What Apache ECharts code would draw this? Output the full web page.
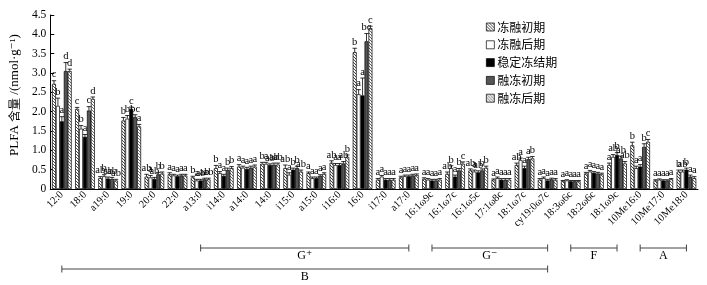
<!DOCTYPE html>
<html><head><meta charset="utf-8">
<script src="https://cdn.jsdelivr.net/npm/echarts@6/dist/echarts.min.js"></script>
<style>html,body{margin:0;padding:0;background:#fff}#c{width:707px;height:285px}</style>
</head><body><div id="c"></div>
<script>
const categories = ['12:0','18:0','a19:0','19:0','20:0','22:0','a13:0','i14:0','a14:0','14:0','i15:0','a15:0','i16:0','16:0','i17:0','a17:0','16:1ω9c','16:1ω7c','16:1ω5c','17:1ω8c','18:1ω7c','cy19:0ω7c','18:3ω6c','18:2ω6c','18:1ω9c','10Me16:0','10Me17:0','10Me18:0'];
const seriesNames = ['冻融初期','冻融后期','稳定冻结期','融冻初期','融冻后期'];
const yTicks = [0,0.5,1.0,1.5,2.0,2.5,3.0,3.5,4.0,4.5];

const s1 = [2.72,2.07,0.28,1.77,0.32,0.38,0.30,0.54,0.58,0.65,0.54,0.41,0.68,3.54,0.24,0.30,0.26,0.39,0.48,0.24,0.62,0.24,0.20,0.40,0.62,1.13,0.22,0.45];
const s2 = [2.15,1.56,0.33,1.82,0.30,0.35,0.22,0.41,0.55,0.65,0.37,0.28,0.62,2.45,0.32,0.33,0.24,0.54,0.45,0.28,0.75,0.28,0.22,0.45,0.83,0.54,0.24,0.45];
const s3 = [1.75,1.35,0.27,2.07,0.26,0.33,0.22,0.34,0.52,0.62,0.50,0.28,0.62,2.42,0.24,0.33,0.22,0.32,0.43,0.24,0.54,0.22,0.20,0.42,0.88,0.58,0.22,0.50];
const s4 = [3.05,2.03,0.26,1.86,0.38,0.35,0.25,0.49,0.55,0.63,0.54,0.34,0.66,3.82,0.24,0.35,0.22,0.48,0.48,0.24,0.77,0.25,0.20,0.40,0.79,1.09,0.22,0.32];
const s5 = [3.05,2.33,0.22,1.62,0.40,0.35,0.25,0.54,0.58,0.63,0.45,0.39,0.83,4.16,0.24,0.36,0.24,0.65,0.55,0.24,0.79,0.24,0.20,0.38,0.66,1.22,0.25,0.28];

const e1 = [0.08,0.04,0.04,0.08,0.06,0.04,0.03,0.07,0.05,0.04,0.08,0.03,0.05,0.10,0.03,0.03,0.03,0.05,0.04,0.02,0.05,0.03,0.02,0.03,0.05,0.08,0.02,0.04];
const e2 = [0.20,0.08,0.04,0.08,0.05,0.03,0.03,0.04,0.04,0.04,0.05,0.03,0.04,0.12,0.03,0.03,0.03,0.06,0.04,0.03,0.05,0.03,0.02,0.03,0.06,0.05,0.02,0.04];
const e3 = [0.12,0.06,0.04,0.05,0.04,0.03,0.03,0.04,0.04,0.03,0.04,0.03,0.04,0.45,0.03,0.03,0.03,0.04,0.04,0.03,0.05,0.03,0.02,0.03,0.06,0.05,0.02,0.04];
const e4 = [0.22,0.10,0.04,0.06,0.05,0.03,0.03,0.05,0.04,0.04,0.05,0.03,0.05,0.20,0.03,0.03,0.03,0.05,0.04,0.03,0.05,0.03,0.02,0.03,0.06,0.08,0.02,0.04];
const e5 = [0.05,0.05,0.03,0.05,0.04,0.03,0.03,0.04,0.04,0.04,0.04,0.03,0.05,0.05,0.03,0.03,0.03,0.05,0.04,0.03,0.05,0.03,0.02,0.03,0.05,0.06,0.02,0.04];

const L1 = ['c','c','ab','b','ab','a','b','b','a','b','ab','a','ab','b','a','a','a','ab','ab','a','ab','a','a','a','a','b','a','b'];
const L2 = ['b','b','b','b','a','a','a','a','a','a','a','a','a','a','a','a','a','b','a','a','a','a','a','a','ab','a','a','ab'];
const L3 = ['a','a','ab','c','ab','a','ab','a','a','ab','b','a','a','a','a','a','a','a','ab','a','a','a','a','a','b','a','a','b'];
const L4 = ['d','c','ab','bc','b','a','ab','b','a','ab','b','a','ab','bc','a','a','a','b','b','a','a','a','a','a','ab','b','a','a'];
const L5 = ['d','d','ab','a','b','a','ab','b','a','ab','ab','a','b','c','a','a','a','c','b','a','b','a','a','a','ab','c','a','a'];

const groupBrackets = [
  {name:'G⁺', from:'a13:0', to:'a17:0', row:0},
  {name:'G⁻', from:'16:1ω9c', to:'cy19:0ω7c', row:0},
  {name:'F', from:'18:3ω6c', to:'18:1ω9c', row:0},
  {name:'A', from:'10Me16:0', to:'10Me18:0', row:0},
  {name:'B', from:'12:0', to:'cy19:0ω7c', row:1}
];

function hatch(bg, fg, size, lw, cross) {
  const c = document.createElement('canvas');
  c.width = size; c.height = size;
  const g = c.getContext('2d');
  g.fillStyle = bg; g.fillRect(0,0,size,size);
  g.strokeStyle = fg; g.lineWidth = lw;
  g.beginPath();
  for (let k=-1;k<=1;k++){ g.moveTo(k*size,0); g.lineTo(k*size+size,size); }
  if (cross) { for (let k=-1;k<=1;k++){ g.moveTo(k*size+size,0); g.lineTo(k*size,size); } }
  g.stroke();
  return {image:c, repeat:'repeat'};
}

const fills = [
  hatch('#ffffff','#333333',3,0.9,false),
  '#ffffff',
  '#000000',
  '#555555',
  hatch('#ffffff','#444444',3,0.8,false)
];
const vals = [s1,s2,s3,s4,s5];
const errs = [e1,e2,e3,e4,e5];
const lets = [L1,L2,L3,L4,L5];
const CAT_GAP = 0.15;
const SERIF = '"Liberation Serif","DejaVu Serif",serif';
const CJK = '"Noto Sans CJK SC","Liberation Serif",serif';

const series = [];
vals.forEach((arr,i)=>{
  series.push({
    name: seriesNames[i], type:'bar', data: arr,
    barGap: '0%', barCategoryGap: (CAT_GAP*100)+'%',
    itemStyle:{color: fills[i], borderColor:'#000', borderWidth:0.7},
    emphasis:{disabled:true}, animation:false
  });
});
vals.forEach((arr,i)=>{
  series.push({
    name:'err'+i, type:'custom', z:5, animation:false, silent:true,
    data: arr.map((v,k)=>[k, v, errs[i][k]]),
    renderItem: function(params, api){
      const k = api.value(0), v = api.value(1), e = api.value(2);
      const pv = api.coord([k, v]);
      const pt = api.coord([k, v+e]);
      const band = api.size([1,0])[0];
      const bw = band*(1-CAT_GAP)/5;
      const x = pv[0] + (i-2)*bw;
      return {type:'group', children:[
        {type:'line', shape:{x1:x,y1:pv[1],x2:x,y2:pt[1]}, style:{stroke:'#000',lineWidth:0.8}},
        {type:'line', shape:{x1:x-2.2,y1:pt[1],x2:x+2.2,y2:pt[1]}, style:{stroke:'#000',lineWidth:0.8}},
        {type:'text', style:{text: lets[i][params.dataIndex], x:x, y:pt[1]-0.5, textAlign:'center', textVerticalAlign:'bottom', font:'10.5px '+SERIF, fill:'#000'}}
      ]};
    }
  });
});

const chart = echarts.init(document.getElementById('c'), null, {renderer:'canvas'});
chart.setOption({
  animation:false,
  backgroundColor:'#fff',
  grid:{left:43, right:9, top:15, bottom:96, containLabel:false},
  legend:{
    data: seriesNames, orient:'vertical', left:481, top:15,
    itemWidth:8, itemHeight:8, itemGap:3.8,
    icon:'rect',
    textStyle:{fontFamily:CJK, fontSize:12, color:'#000', lineHeight:14, padding:[0,0,0,-2]},
    itemStyle:{borderColor:'#000', borderWidth:0.7}
  },
  xAxis:{
    type:'category', data: categories,
    axisLine:{lineStyle:{color:'#000', width:1}},
    axisTick:{inside:true, length:3, lineStyle:{color:'#000'}},
    axisLabel:{rotate:45, interval:0, fontFamily:SERIF, fontSize:10.5, color:'#000', margin:4}
  },
  yAxis:{
    type:'value', min:0, max:4.5, interval:0.5,
    name:'{a|PLFA }{c|含量}{a| /(nmol·g⁻¹)}', nameLocation:'middle', nameGap:27,
    nameTextStyle:{color:'#000', padding:[0,0,0,14], rich:{
      a:{fontFamily:SERIF, fontSize:13, color:'#000'},
      c:{fontFamily:CJK, fontSize:12, color:'#000'}
    }},
    axisLine:{show:true, lineStyle:{color:'#000', width:1}},
    axisTick:{show:true, inside:true, length:4, lineStyle:{color:'#000'}},
    splitLine:{show:false},
    axisLabel:{fontFamily:SERIF, fontSize:11.5, color:'#000', margin:4,
      formatter: v => { const t = yTicks.find(x=>Math.abs(x-v)<1e-9); return t===0 ? '0' : (t!==undefined? t.toFixed(1) : ''); }}
  },
  series: series
});

const rowY = [248, 269];
const graphics = [];
groupBrackets.forEach(b=>{
  const x1 = chart.convertToPixel({xAxisIndex:0}, b.from);
  const x2 = chart.convertToPixel({xAxisIndex:0}, b.to);
  const y = rowY[b.row];
  graphics.push({type:'line', shape:{x1:x1,y1:y,x2:x2,y2:y}, style:{stroke:'#444',lineWidth:1}});
  graphics.push({type:'line', shape:{x1:x1,y1:y-3.5,x2:x1,y2:y+3.5}, style:{stroke:'#444',lineWidth:1}});
  graphics.push({type:'line', shape:{x1:x2,y1:y-3.5,x2:x2,y2:y+3.5}, style:{stroke:'#444',lineWidth:1}});
  graphics.push({type:'text', style:{text:b.name, x:(x1+x2)/2, y:y+2, textAlign:'center', textVerticalAlign:'top', font:'12px '+SERIF, fill:'#000'}});
});
chart.setOption({graphic: graphics});
</script>
</body></html>
